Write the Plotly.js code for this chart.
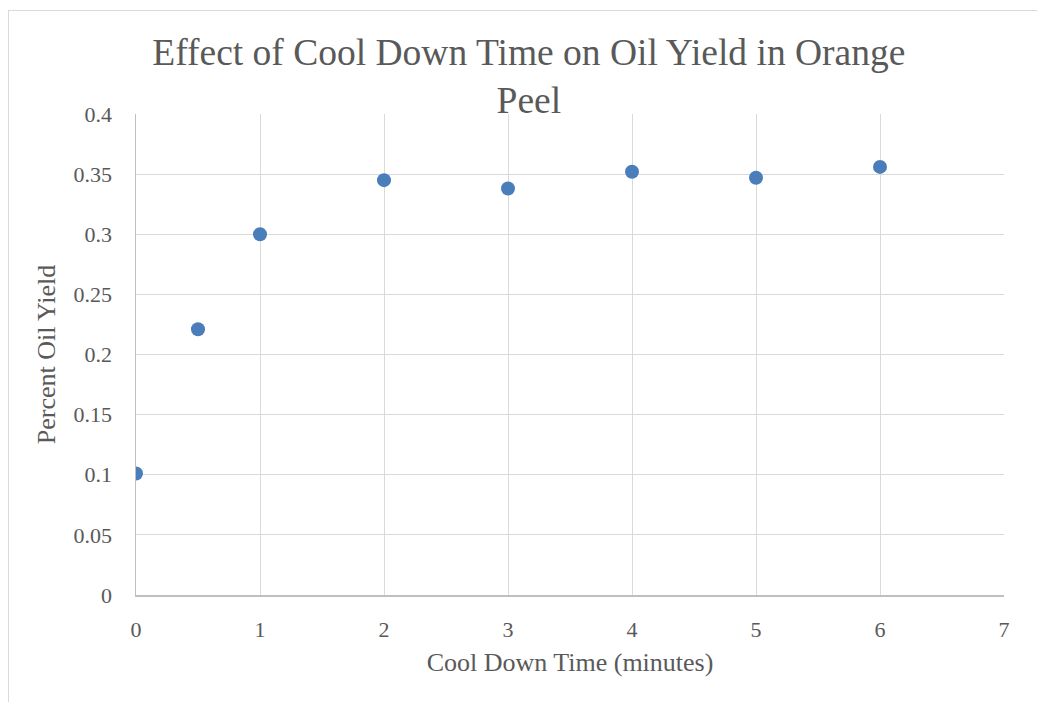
<!DOCTYPE html>
<html><head><meta charset="utf-8">
<script src="https://cdn.plot.ly/plotly-3.0.1.min.js"></script>
<style>
html,body{margin:0;padding:0;background:#fff;}
#frame{position:absolute;left:8px;top:10px;width:1100px;height:800px;border:1px solid #d9d9d9;box-sizing:border-box;}
#chart{position:absolute;left:0;top:0;width:1037px;height:702px;}
</style></head>
<body>
<div id="frame"></div>
<div id="chart"></div>
<script>
const coolDownMinutes = [0, 0.5, 1, 2, 3, 4, 5, 6];
const percentOilYield = [0.101, 0.221, 0.300, 0.345, 0.338, 0.352, 0.347, 0.356];
const xTicks = [0, 1, 2, 3, 4, 5, 6, 7];
const yTicks = [0, 0.05, 0.1, 0.15, 0.2, 0.25, 0.3, 0.35, 0.4];

const font = 'Liberation Serif, Times New Roman, serif';
const txt = '#595959';

Plotly.newPlot('chart', [{
  x: coolDownMinutes, y: percentOilYield, type: 'scatter', mode: 'markers',
  marker: {color: '#4a7ebb', size: 14}
}], {
  width: 1037, height: 702,
  paper_bgcolor: 'rgba(0,0,0,0)', plot_bgcolor: '#fff',
  margin: {l: 136, r: 33, t: 114, b: 107},
  showlegend: false,
  title: {text: 'Effect of Cool Down Time on Oil Yield in Orange<br>Peel',
    font: {family: font, size: 37.5, color: txt},
    xref: 'container', x: 0.51, xanchor: 'center', yref: 'container', y: 0.908, yanchor: 'top'},
  xaxis: {range: [0, 7], tickvals: xTicks, ticktext: xTicks.map(String),
    showgrid: true, gridcolor: '#d9d9d9', gridwidth: 1,
    showline: true, linecolor: '#bfbfbf', linewidth: 1.5, zeroline: false,
    ticks: '', ticklabelstandoff: 14, tickfont: {family: font, size: 22, color: txt},
    title: {text: 'Cool Down Time (minutes)', font: {family: font, size: 26, color: txt}, standoff: 12}},
  yaxis: {range: [0, 0.4], tickvals: yTicks, ticktext: yTicks.map(String),
    showgrid: true, gridcolor: '#d9d9d9', gridwidth: 1,
    showline: true, linecolor: '#bfbfbf', linewidth: 1.5, zeroline: false,
    ticks: '', ticklabelstandoff: 18, tickfont: {family: font, size: 22, color: txt},
    title: {text: 'Percent Oil Yield', font: {family: font, size: 26, color: txt}, standoff: 10}}
}, {displayModeBar: false, staticPlot: true});
</script>
</body></html>
